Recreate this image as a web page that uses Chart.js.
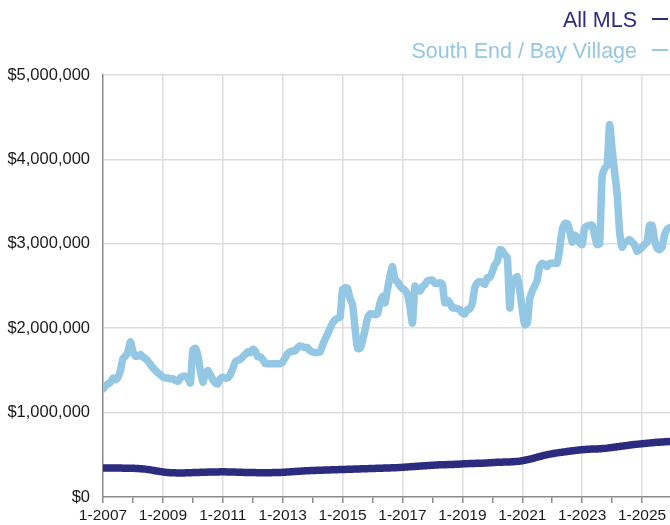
<!DOCTYPE html>
<html>
<head>
<meta charset="utf-8">
<script src="https://cdn.jsdelivr.net/npm/chart.js@4/dist/chart.umd.min.js"></script>
<style>
  html, body { margin: 0; padding: 0; background: #fff; }
  #wrap { width: 670px; height: 525px; }
</style>
</head>
<body>
<div id="wrap"><canvas id="myChart" width="670" height="525"></canvas></div>
<script>
// monthly median price, Jan 2007 -> Dec 2025 (millions $)
const startYear = 2007;
const yearTicks = [0, 12, 24, 36, 48, 60, 72, 84, 96, 108, 120, 132, 144, 156, 168, 180, 192, 204, 216];

const seriesNames = ["All MLS", "South End / Bay Village"];
const seriesColors = ["#2b2b80", "#93c7e3"];

const allMls = [
  0.345, 0.345, 0.345, 0.345, 0.344, 0.344, 0.343, 0.343, 0.342, 0.342, 0.341, 0.340,
  0.340, 0.339, 0.338, 0.336, 0.333, 0.330, 0.326, 0.321, 0.316, 0.311, 0.306, 0.301,
  0.297, 0.293, 0.290, 0.288, 0.287, 0.286, 0.285, 0.285, 0.285, 0.286, 0.287, 0.288,
  0.289, 0.290, 0.291, 0.292, 0.293, 0.294, 0.295, 0.296, 0.296, 0.297, 0.297, 0.298,
  0.298, 0.298, 0.297, 0.297, 0.296, 0.295, 0.294, 0.293, 0.292, 0.291, 0.290, 0.290,
  0.289, 0.289, 0.288, 0.288, 0.288, 0.288, 0.288, 0.288, 0.289, 0.289, 0.290, 0.291,
  0.292, 0.294, 0.296, 0.298, 0.300, 0.302, 0.304, 0.306, 0.308, 0.310, 0.311, 0.313,
  0.314, 0.315, 0.316, 0.317, 0.318, 0.319, 0.320, 0.321, 0.322, 0.323, 0.324, 0.325,
  0.326, 0.327, 0.328, 0.329, 0.330, 0.331, 0.332, 0.333, 0.334, 0.335, 0.336, 0.337,
  0.338, 0.339, 0.340, 0.341, 0.342, 0.343, 0.344, 0.345, 0.346, 0.347, 0.348, 0.350,
  0.352, 0.354, 0.356, 0.358, 0.360, 0.362, 0.364, 0.366, 0.368, 0.370, 0.372, 0.374,
  0.376, 0.378, 0.380, 0.381, 0.382, 0.383, 0.384, 0.385, 0.386, 0.387, 0.388, 0.390,
  0.392, 0.394, 0.395, 0.396, 0.397, 0.398, 0.399, 0.400, 0.401, 0.402, 0.404, 0.406,
  0.408, 0.410, 0.411, 0.412, 0.413, 0.414, 0.415, 0.416, 0.418, 0.420, 0.422, 0.425,
  0.430, 0.436, 0.442, 0.449, 0.456, 0.464, 0.472, 0.480, 0.488, 0.495, 0.502, 0.508,
  0.513, 0.518, 0.523, 0.527, 0.531, 0.535, 0.539, 0.543, 0.547, 0.551, 0.555, 0.558,
  0.561, 0.563, 0.565, 0.567, 0.568, 0.569, 0.570, 0.572, 0.574, 0.576, 0.579, 0.583,
  0.587, 0.591, 0.595, 0.599, 0.603, 0.607, 0.611, 0.615, 0.619, 0.622, 0.625, 0.628,
  0.631, 0.634, 0.637, 0.640, 0.643, 0.646, 0.648, 0.650, 0.652, 0.654, 0.656, 0.658
];

const southEnd = [
  1.28, 1.32, 1.34, 1.36, 1.41, 1.39, 1.42, 1.50, 1.64, 1.67, 1.72, 1.84,
  1.72, 1.67, 1.67, 1.69, 1.66, 1.64, 1.61, 1.57, 1.53, 1.50, 1.47, 1.45,
  1.42, 1.41, 1.41, 1.40, 1.40, 1.38, 1.37, 1.41, 1.43, 1.43, 1.41, 1.35,
  1.74, 1.76, 1.68, 1.50, 1.36, 1.46, 1.50, 1.45, 1.39, 1.35, 1.34, 1.40,
  1.42, 1.41, 1.41, 1.45, 1.52, 1.60, 1.62, 1.63, 1.66, 1.69, 1.72, 1.71,
  1.75, 1.73, 1.66, 1.66, 1.63, 1.58, 1.58, 1.58, 1.58, 1.58, 1.58, 1.58,
  1.60, 1.65, 1.70, 1.72, 1.73, 1.73, 1.77, 1.79, 1.78, 1.77, 1.77, 1.73,
  1.72, 1.71, 1.71, 1.72, 1.80, 1.87, 1.93, 2.00, 2.06, 2.10, 2.12, 2.13,
  2.46, 2.48, 2.47, 2.35, 2.28, 2.00, 1.76, 1.76, 1.85, 1.98, 2.12, 2.17,
  2.17, 2.16, 2.17, 2.30, 2.38, 2.30, 2.46, 2.62, 2.73, 2.57, 2.55, 2.50,
  2.47, 2.45, 2.40, 2.25, 2.06, 2.50, 2.45, 2.44, 2.49, 2.52, 2.56, 2.57,
  2.57, 2.53, 2.53, 2.54, 2.52, 2.30, 2.33, 2.30, 2.24, 2.24, 2.23, 2.22,
  2.18, 2.17, 2.22, 2.23, 2.30, 2.48, 2.54, 2.55, 2.54, 2.52, 2.60, 2.60,
  2.67, 2.75, 2.79, 2.93, 2.92, 2.87, 2.84, 2.24, 2.57, 2.59, 2.61, 2.45,
  2.22, 2.04, 2.06, 2.35, 2.44, 2.50, 2.57, 2.73, 2.77, 2.75, 2.73, 2.77,
  2.77, 2.77, 2.77, 2.95, 3.16, 3.24, 3.24, 3.16, 3.02, 3.10, 3.08, 3.01,
  2.99, 3.19, 3.21, 3.22, 3.22, 3.10, 2.99, 3.00, 3.80, 3.89, 3.93, 4.41,
  4.12, 3.85, 3.60, 3.15, 2.96, 3.01, 3.03, 3.05, 3.02, 2.99, 2.91, 2.93,
  2.96, 2.99, 3.02, 3.22, 3.22, 3.05, 2.95, 2.93, 2.96, 3.10, 3.17, 3.19
];

function toPoints(arr) {
  return arr.map((v, i) => ({ x: i, y: v * 1000000 }));
}

// legend drawn top right: text then a short dash
const rightLegend = {
  id: "rightLegend",
  afterDraw(chart) {
    const ctx = chart.ctx;
    ctx.save();
    ctx.font = '21.5px "Liberation Sans", Arial, sans-serif';
    ctx.textAlign = "right";
    ctx.textBaseline = "alphabetic";
    const rows = [27, 58];
    seriesNames.forEach((name, i) => {
      ctx.fillStyle = seriesColors[i];
      ctx.fillText(name, 637, rows[i]);
      ctx.strokeStyle = seriesColors[i];
      ctx.lineWidth = 2;
      ctx.beginPath();
      ctx.moveTo(652, rows[i] - 8);
      ctx.lineTo(668, rows[i] - 8);
      ctx.stroke();
    });
    ctx.restore();
  },
};

const data = {
  datasets: [
    {
      label: seriesNames[0],
      data: toPoints(allMls),
      borderColor: seriesColors[0],
      borderWidth: 7.5,
      tension: 0.3,
    },
    {
      label: seriesNames[1],
      data: toPoints(southEnd),
      borderColor: seriesColors[1],
      borderWidth: 7.5,
      tension: 0.2,
    },
  ],
};

const config = {
  type: "line",
  data: data,
  options: {
    responsive: false,
    animation: false,
    devicePixelRatio: 1,
    layout: { padding: { top: 75, left: 0, right: 0, bottom: 0 } },
    elements: {
      point: { radius: 0 },
      line: { borderCapStyle: "round", borderJoinStyle: "round" },
    },
    plugins: {
      legend: { display: false },
      tooltip: { enabled: false },
    },
    scales: {
      x: {
        type: "linear",
        min: 0,
        max: 227.2,
        afterBuildTicks: (scale) => {
          scale.ticks = yearTicks.map((v) => ({ value: v }));
        },
        afterFit: (scale) => {
          scale.height = 28;
        },
        ticks: {
          autoSkip: false,
          maxRotation: 0,
          padding: 3,
          color: "#1a1a1a",
          font: { family: '"Liberation Sans", Arial, sans-serif', size: 15.5 },
          callback: (v) => (v % 24 === 0 ? "1-" + (startYear + v / 12) : ""),
        },
        grid: {
          color: (c) => (c.tick && c.tick.value % 24 === 0 && c.tick.value > 0 ? "#dedede" : "rgba(0,0,0,0)"),
          lineWidth: 1.5,
          tickColor: "#8a8a8a",
          tickWidth: 1.5,
          tickLength: 6,
        },
        border: { color: "#8a8a8a", width: 1.5 },
      },
      y: {
        min: 0,
        max: 5000000,
        afterFit: (scale) => {
          scale.width = 103;
        },
        ticks: {
          stepSize: 1000000,
          padding: 13,
          color: "#1a1a1a",
          font: { family: '"Liberation Sans", Arial, sans-serif', size: 16.5 },
          callback: (v) => "$" + v.toLocaleString("en-US"),
        },
        grid: {
          color: (c) => (c.tick && c.tick.value > 0 ? "#dedede" : "rgba(0,0,0,0)"),
          lineWidth: 1.5,
          drawTicks: false,
        },
        border: { color: "#8a8a8a", width: 1.5 },
      },
    },
  },
  plugins: [rightLegend],
};

const context = document.getElementById("myChart").getContext("2d");
const chart = new Chart(context, config);
</script>
</body>
</html>
